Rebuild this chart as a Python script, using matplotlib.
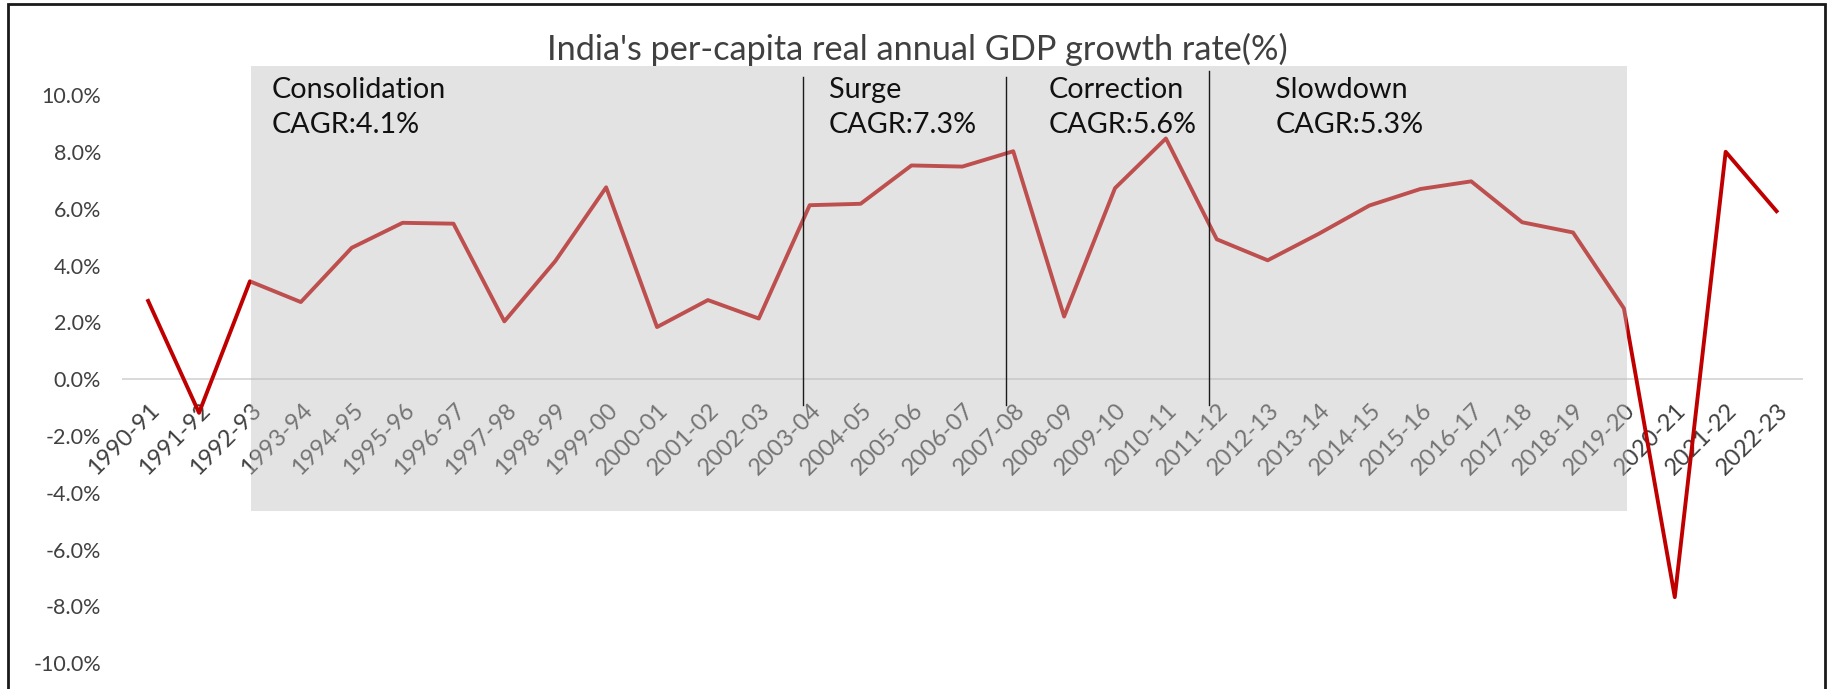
import matplotlib.pyplot as plt
import matplotlib.transforms as mtransforms
from matplotlib.patches import Rectangle
from matplotlib.lines import Line2D

plt.rcParams['font.family'] = ['Lato', 'DejaVu Sans']

# Fiscal years and per-capita real GDP growth (%)
years = ["1990-91", "1991-92", "1992-93", "1993-94", "1994-95", "1995-96",
         "1996-97", "1997-98", "1998-99", "1999-00", "2000-01", "2001-02",
         "2002-03", "2003-04", "2004-05", "2005-06", "2006-07", "2007-08",
         "2008-09", "2009-10", "2010-11", "2011-12", "2012-13", "2013-14",
         "2014-15", "2015-16", "2016-17", "2017-18", "2018-19", "2019-20",
         "2020-21", "2021-22", "2022-23"]
growth = [2.76, -1.18, 3.45, 2.72, 4.63, 5.51, 5.48, 2.04, 4.16, 6.76,
          1.84, 2.79, 2.14, 6.13, 6.18, 7.53, 7.49, 8.03, 2.21, 6.73,
          8.48, 4.93, 4.19, 5.12, 6.12, 6.70, 6.97, 5.53, 5.17, 2.50,
          -7.67, 8.01, 5.92]

# Growth phases
phase_names = ["Consolidation", "Surge", "Correction", "Slowdown"]
phase_cagr = ["CAGR:4.1%", "CAGR:7.3%", "CAGR:5.6%", "CAGR:5.3%"]
phase_text_x = [2.42, 13.38, 17.69, 22.15]
phase_breaks = [12.86, 16.86, 20.84]
break_tops = [10.64, 10.64, 10.85]

W, H = 1831, 689
fig = plt.figure(figsize=(W / 100, H / 100), dpi=100)
ax = fig.add_axes([122.7 / W, 1 - 663.3 / H, (1802 - 122.7) / W, (663.3 - 95.3) / H])

x = list(range(len(years)))
ax.plot(x, growth, color="#C00000", lw=2.8, zorder=3)

ax.set_xlim(-0.5, len(years) - 0.5)
ax.set_ylim(-10, 10)

for s in ["top", "left", "right"]:
    ax.spines[s].set_visible(False)
ax.spines["bottom"].set_position(("data", 0))
ax.spines["bottom"].set_color("#D9D9D9")
ax.spines["bottom"].set_linewidth(1.4)

ax.tick_params(axis="y", length=0, pad=15.5, labelsize=15.5, labelcolor="#404040")
ax.tick_params(axis="x", length=0, pad=20, labelsize=17, labelcolor="#404040")

ax.set_yticks(range(-10, 11, 2))
ax.set_yticklabels([f"{v:.1f}%" for v in range(-10, 11, 2)])
ax.set_xticks(x)
ax.set_xticklabels(years)

shift = mtransforms.ScaledTranslation(8 / 100, 0, fig.dpi_scale_trans)
for lbl in ax.get_xticklabels():
    lbl.set_rotation(45)
    lbl.set_ha("right")
    lbl.set_va("center")
    lbl.set_rotation_mode("anchor")
    lbl.set_transform(lbl.get_transform() + shift)

# translucent band over the 1992-2020 period
band = Rectangle((2.02, -4.63), 27.05, 15.66, transform=ax.transData,
                 facecolor=(189 / 255, 189 / 255, 189 / 255), alpha=0.424,
                 edgecolor="none", zorder=5)
fig.add_artist(band)

for xb, top in zip(phase_breaks, break_tops):
    fig.add_artist(Line2D([xb, xb], [-0.9, top], transform=ax.transData,
                          color="#1a1a1a", lw=1.0, zorder=6))

for name, cagr, tx in zip(phase_names, phase_cagr, phase_text_x):
    fig.text(tx, 9.92, name, transform=ax.transData, fontsize=20.7,
             color="#111111", va="baseline", ha="left", zorder=7)
    fig.text(tx, 8.66, cagr, transform=ax.transData, fontsize=20.7,
             color="#111111", va="baseline", ha="left", zorder=7)

fig.text(917 / W, 1 - 49 / H, "India's per-capita real annual GDP growth rate(%)",
         fontsize=24.7, color="#404040", ha="center", va="center")

# chart border
fig.add_artist(Rectangle((8 / W, -0.05), (1825 - 8) / W, 1.05 - 4 / H,
                         transform=fig.transFigure, fill=False,
                         edgecolor="#1a1a1a", lw=2, zorder=8))

fig.savefig("out.png", dpi=100)
